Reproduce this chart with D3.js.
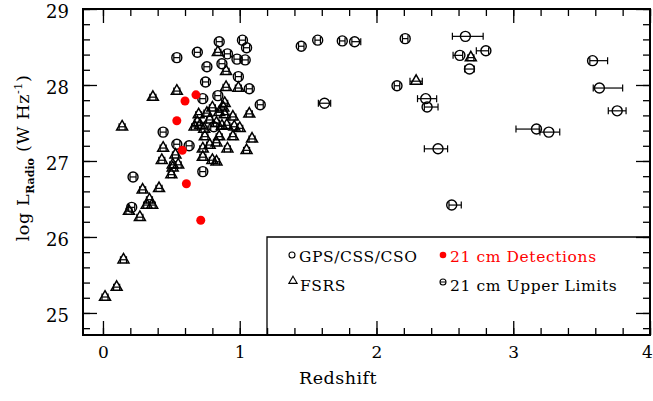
<!DOCTYPE html>
<html>
<head>
<meta charset="utf-8">
<script src="https://cdn.jsdelivr.net/npm/d3@7"></script>
<style>
  html, body { margin: 0; padding: 0; background: #fff; }
  svg { display: block; }
  text { font-family: "DejaVu Serif", "Liberation Serif", serif; }
</style>
</head>
<body>
<svg id="chart" width="653" height="401"></svg>
<script>
// ---- data: [redshift, logL, zErrLow, zErrHigh] ----
const circlesData = [
  [2.65,28.64,0.095,0.13],[2.21,28.61,0.02,0.02],[1.57,28.59,0.02,0.02],[1.45,28.51,0.02,0.02],
  [1.75,28.58,0.02,0.02],[1.84,28.57,0.02,0.045],[2.61,28.39,0.05,0.02],[2.80,28.45,0.07,0.02],
  [2.68,28.21,0.035,0.035],[2.15,27.99,0.02,0.02],[1.62,27.76,0.045,0.045],[2.36,27.82,0.06,0.08],
  [2.37,27.71,0.02,0.08],[2.45,27.16,0.10,0.07],[2.55,26.42,0.02,0.07],[3.58,28.32,0.02,0.11],
  [3.63,27.96,0.045,0.17],[3.76,27.66,0.065,0.065],[3.17,27.42,0.15,0.02],[3.26,27.38,0.065,0.08],
  [0.85,28.57,0.022,0.022],[1.02,28.59,0.022,0.022],[1.05,28.49,0.022,0.022],[0.69,28.43,0.022,0.022],
  [0.91,28.41,0.022,0.022],[0.54,28.36,0.022,0.022],[0.98,28.34,0.022,0.022],[1.04,28.33,0.022,0.022],
  [0.76,28.24,0.022,0.022],[0.87,28.28,0.022,0.022],[0.99,28.11,0.022,0.022],[0.75,28.04,0.022,0.022],
  [1.07,27.95,0.022,0.022],[0.73,27.82,0.022,0.022],[0.84,27.86,0.022,0.022],[1.15,27.74,0.022,0.022],
  [0.44,27.38,0.022,0.022],[0.81,27.45,0.022,0.022],[0.54,27.22,0.022,0.022],[0.63,27.20,0.022,0.022],
  [0.73,26.86,0.022,0.022],[0.22,26.79,0.022,0.022],[0.21,26.39,0.022,0.022]
];
const trianglesData = [
  [0.84,28.43,0.022,0.022],[0.90,28.18,0.022,0.022],[0.90,27.97,0.022,0.022],[0.99,27.96,0.022,0.022],
  [0.54,27.92,0.022,0.022],[0.365,27.84,0.022,0.022],[0.89,27.76,0.022,0.022],[1.07,27.62,0.022,0.022],
  [0.14,27.45,0.022,0.022],[1.09,27.29,0.022,0.022],[1.05,27.14,0.022,0.022],[0.91,27.16,0.022,0.022],
  [2.69,28.36,0.022,0.022],[2.29,28.05,0.045,0.045],
  [0.70,27.61,0.022,0.022],[0.76,27.63,0.022,0.022],[0.80,27.70,0.022,0.022],[0.85,27.64,0.022,0.022],
  [0.89,27.61,0.022,0.022],[0.95,27.58,0.022,0.022],[0.69,27.51,0.022,0.022],[0.78,27.54,0.022,0.022],
  [0.83,27.50,0.022,0.022],[0.74,27.42,0.022,0.022],[0.87,27.46,0.022,0.022],[0.96,27.45,0.022,0.022],
  [1.00,27.43,0.022,0.022],[0.745,27.32,0.022,0.022],[0.85,27.32,0.022,0.022],[0.95,27.32,0.022,0.022],
  [0.83,27.24,0.022,0.022],[0.78,27.21,0.022,0.022],[0.73,27.16,0.022,0.022],[0.88,27.70,0.022,0.022],
  [0.905,27.47,0.022,0.022],[0.73,27.05,0.022,0.022],[0.80,27.01,0.022,0.022],[0.83,26.99,0.022,0.022],
  [0.53,27.08,0.022,0.022],[0.51,26.95,0.022,0.022],[0.55,26.95,0.022,0.022],[0.67,27.45,0.022,0.022],
  [0.71,27.47,0.022,0.022],[0.44,27.17,0.022,0.022],[0.43,27.01,0.022,0.022],[0.51,26.91,0.022,0.022],
  [0.50,26.82,0.022,0.022],[0.41,26.64,0.022,0.022],[0.29,26.62,0.022,0.022],[0.34,26.49,0.022,0.022],
  [0.36,26.42,0.022,0.022],[0.32,26.42,0.022,0.022],[0.19,26.34,0.022,0.022],[0.27,26.26,0.022,0.022],
  [0.15,25.70,0.022,0.022],[0.10,25.34,0.022,0.022],[0.015,25.21,0.022,0.022]
];
const detectionsData = [
  [0.68,27.87],[0.60,27.79],[0.54,27.53],[0.58,27.14],[0.61,26.70],[0.715,26.22]
];
const xTickLabels = [0,1,2,3,4];
const yTickLabels = [25,26,27,28,29];
const legendLabels = ["GPS/CSS/CSO","21 cm Detections","FSRS","21 cm Upper Limits"];

// ---- layout ----
const svg = d3.select("#chart");
const L = 83, R = 650, T = 9, B = 335;
const x = d3.scaleLinear().domain([-0.146, 4]).range([L, R]);
const y = d3.scaleLinear().domain([24.71, 29]).range([B, T]);

const xMinor = d3.range(0, 4.001, 0.2);
const yMinor = d3.range(24.8, 29.001, 0.2);

function styleAxis(g){ g.select(".domain").remove(); g.selectAll("line").attr("stroke","#000").attr("stroke-width",1.3); }

// minor ticks (all four sides)
svg.append("g").attr("transform",`translate(0,${B})`).call(d3.axisBottom(x).tickValues(xMinor).tickSize(-7).tickFormat("")).call(styleAxis);
svg.append("g").attr("transform",`translate(0,${T})`).call(d3.axisTop(x).tickValues(xMinor).tickSize(-7).tickFormat("")).call(styleAxis);
svg.append("g").attr("transform",`translate(${L},0)`).call(d3.axisLeft(y).tickValues(yMinor).tickSize(-7).tickFormat("")).call(styleAxis);
svg.append("g").attr("transform",`translate(${R},0)`).call(d3.axisRight(y).tickValues(yMinor).tickSize(-7).tickFormat("")).call(styleAxis);
// major ticks
const xb = svg.append("g").attr("transform",`translate(0,${B})`).call(d3.axisBottom(x).tickValues(xTickLabels).tickSize(-14).tickPadding(21).tickFormat(d3.format("d"))).call(styleAxis);
svg.append("g").attr("transform",`translate(0,${T})`).call(d3.axisTop(x).tickValues(xTickLabels).tickSize(-14).tickFormat("")).call(styleAxis);
const yl = svg.append("g").attr("transform",`translate(${L},0)`).call(d3.axisLeft(y).tickValues(yTickLabels).tickSize(-14).tickPadding(14).tickFormat(d3.format("d"))).call(styleAxis);
svg.append("g").attr("transform",`translate(${R},0)`).call(d3.axisRight(y).tickValues(yTickLabels).tickSize(-14).tickFormat("")).call(styleAxis);
xb.selectAll("text").attr("font-size",17).attr("font-family","DejaVu Serif").attr("fill","#000").attr("dy","0.1em")
  .attr("dx",d=>d===4?"-3":"0");
yl.selectAll("text").attr("font-size",18).attr("font-family","DejaVu Serif").attr("fill","#000").attr("dy","0.45em");

// frame
svg.append("rect").attr("x",L).attr("y",T).attr("width",R-L).attr("height",B-T)
  .attr("fill","none").attr("stroke","#000").attr("stroke-width",2);

// legend box
const lgX = 267, lgY = 237;
svg.append("path").attr("d",`M${lgX},${B}V${lgY}H${R}`).attr("fill","none").attr("stroke","#000").attr("stroke-width",1.3);

// error bars
const cap = 3.5;
function errBars(g, data){
  const eb = g.selectAll("g.eb").data(data).join("g").attr("class","eb")
    .attr("stroke","#000").attr("stroke-width",1.2).attr("fill","none");
  eb.append("line").attr("x1",d=>x(d[0]-d[2])).attr("x2",d=>x(d[0]+d[3])).attr("y1",d=>y(d[1])).attr("y2",d=>y(d[1]));
  eb.append("line").attr("x1",d=>x(d[0]-d[2])).attr("x2",d=>x(d[0]-d[2])).attr("y1",d=>y(d[1])-cap).attr("y2",d=>y(d[1])+cap);
  eb.append("line").attr("x1",d=>x(d[0]+d[3])).attr("x2",d=>x(d[0]+d[3])).attr("y1",d=>y(d[1])-cap).attr("y2",d=>y(d[1])+cap);
}
const gC = svg.append("g");
errBars(gC, circlesData);
gC.selectAll("circle").data(circlesData).join("circle")
  .attr("cx",d=>x(d[0])).attr("cy",d=>y(d[1])).attr("r",5)
  .attr("fill","none").attr("stroke","#000").attr("stroke-width",1.4);

const gT = svg.append("g");
errBars(gT, trianglesData);
const tri = d3.symbol().type(d3.symbolTriangle).size(52);
gT.selectAll("path.tri").data(trianglesData).join("path").attr("class","tri")
  .attr("d",tri).attr("transform",d=>`translate(${x(d[0])},${y(d[1])})`)
  .attr("fill","none").attr("stroke","#000").attr("stroke-width",1.5);

svg.append("g").selectAll("circle").data(detectionsData).join("circle")
  .attr("cx",d=>x(d[0])).attr("cy",d=>y(d[1])).attr("r",4.5).attr("fill","#ff0000");

// legend
const lg = svg.append("g").attr("font-size",15.5).attr("letter-spacing","0.6");
lg.append("circle").attr("cx",292).attr("cy",255).attr("r",3).attr("fill","none").attr("stroke","#000").attr("stroke-width",1.1);
lg.append("text").attr("x",299).attr("y",262).text(legendLabels[0]);
lg.append("circle").attr("cx",443).attr("cy",255).attr("r",3.3).attr("fill","#ff0000");
lg.append("text").attr("x",450).attr("y",262).attr("fill","#ff0000").text(legendLabels[1]);
lg.append("path").attr("d",d3.symbol().type(d3.symbolTriangle).size(30)).attr("transform","translate(293,281)")
  .attr("fill","none").attr("stroke","#000").attr("stroke-width",1.1);
lg.append("text").attr("x",300).attr("y",291).text(legendLabels[2]);
lg.append("circle").attr("cx",443).attr("cy",282).attr("r",3).attr("fill","none").attr("stroke","#000").attr("stroke-width",1.1);
lg.append("line").attr("x1",440).attr("x2",446).attr("y1",282).attr("y2",282).attr("stroke","#000").attr("stroke-width",1);
lg.append("text").attr("x",450).attr("y",291).text(legendLabels[3]);

// axis titles
svg.append("text").attr("x",338).attr("y",384).attr("text-anchor","middle").attr("font-size",17.5).attr("letter-spacing","0.5").text("Redshift");
const yt = svg.append("text").attr("transform","translate(29,158) rotate(-90)").attr("text-anchor","middle").attr("font-size",17.5).attr("letter-spacing","0.6");
yt.append("tspan").text("log L");
yt.append("tspan").attr("font-size",11).attr("font-weight","bold").attr("letter-spacing","0").attr("dy",5).text("Radio");
yt.append("tspan").attr("dy",-5).text(" (W Hz");
yt.append("tspan").attr("font-size",11).attr("dy",-7).text("-1");
yt.append("tspan").attr("dy",7).text(")");
</script>
</body>
</html>
